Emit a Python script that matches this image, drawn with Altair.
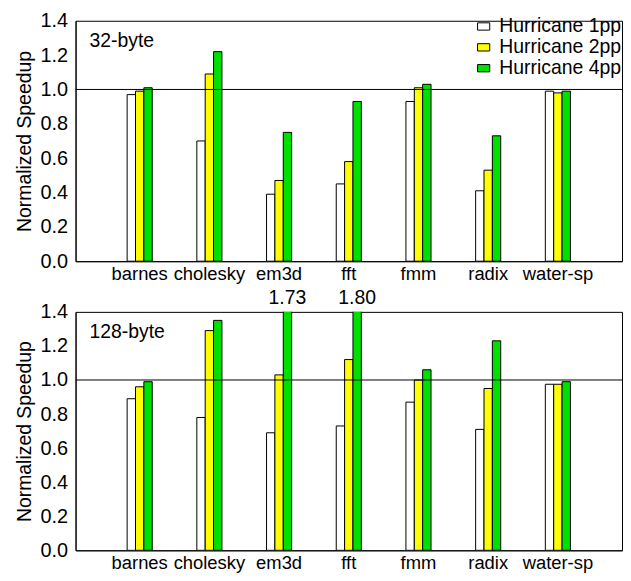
import altair as alt
import pandas as pd

BENCH = ["barnes", "cholesky", "em3d", "fft", "fmm", "radix", "water-sp"]
SERIES = ["Hurricane 1pp", "Hurricane 2pp", "Hurricane 4pp"]
COLORS = ["#ffffff", "#ffff00", "#00e000"]

# 32-byte line size
TOP_1PP = [0.97, 0.70, 0.39, 0.45, 0.93, 0.41, 0.99]
TOP_2PP = [0.99, 1.09, 0.47, 0.58, 1.01, 0.53, 0.98]
TOP_4PP = [1.01, 1.22, 0.75, 0.93, 1.03, 0.73, 0.99]

# 128-byte line size
BOT_1PP = [0.89, 0.78, 0.69, 0.73, 0.87, 0.71, 0.975]
BOT_2PP = [0.96, 1.29, 1.03, 1.12, 1.00, 0.95, 0.975]
BOT_4PP = [0.99, 1.35, 1.73, 1.80, 1.06, 1.23, 0.99]

# off-scale annotations (bottom panel)
ANNOT_BENCH = ["em3d", "fft"]
ANNOT_TEXT = ["1.73", "1.80"]
Y_MAX = 1.4
Y_TICKS = [0.0, 0.2, 0.4, 0.6, 0.8, 1.0, 1.2, 1.4]
REF_LINE = [1.0]
PANEL_LABELS = ["32-byte", "128-byte"]

FONT = "Liberation Sans"
FS = 19.5
W = 550


def frame(v1, v2, v4):
    rows = []
    for i, b in enumerate(BENCH):
        for s, vals in zip(SERIES, (v1, v2, v4)):
            rows.append({"bench": b, "series": s, "value": vals[i]})
    return pd.DataFrame(rows)


xscale = alt.Scale(paddingInner=0.64, paddingOuter=0.74)
xoscale = alt.Scale(paddingInner=0, paddingOuter=0)
yscale = alt.Scale(domain=[0, Y_MAX], nice=False)

X_AXIS = alt.Axis(title=None, labelAngle=0, ticks=False, labelFontSize=18.5,
                  labelFont=FONT, labelColor="black", domainColor="black",
                  labelPadding=3)
Y_AXIS = alt.Axis(title="Normalized Speedup", values=Y_TICKS, format=".1f",
                  grid=False, ticks=False, labelFontSize=20, labelFont=FONT,
                  labelColor="black", titleFontSize=FS, titleFont=FONT,
                  titleFontWeight="normal", titleColor="black",
                  domainColor="black", labelPadding=8, titlePadding=6,
                  labelOverlap=False)


def panel(df, label, h, annot=None):
    bars = alt.Chart(df).mark_bar(stroke="black", strokeWidth=1, clip=True).encode(
        x=alt.X("bench:N", sort=BENCH, scale=xscale, axis=X_AXIS),
        xOffset=alt.XOffset("series:N", sort=SERIES, scale=xoscale),
        y=alt.Y("value:Q", scale=yscale, axis=Y_AXIS),
        color=alt.Color("series:N", sort=SERIES,
                        scale=alt.Scale(domain=SERIES, range=COLORS),
                        legend=alt.Legend(title=None, orient="none", legendX=401, legendY=-4,
                                          labelFontSize=FS, labelFont=FONT, labelColor="black",
                                          symbolType="M-1,-0.6L1,-0.6L1,0.6L-1,0.6Z",
                                          symbolSize=150, symbolStrokeColor="black",
                                          symbolStrokeWidth=1, rowPadding=0,
                                          labelOffset=6, symbolOpacity=1)),
    )
    rule = alt.Chart(pd.DataFrame({"y": REF_LINE})).mark_rule(
        color="black", strokeWidth=1).encode(y=alt.Y("y:Q", scale=yscale, axis=Y_AXIS))
    txt = alt.Chart(pd.DataFrame({"t": [label]})).mark_text(
        align="left", baseline="alphabetic", fontSize=FS, font=FONT, color="black"
    ).encode(text="t:N", x=alt.value(14), y=alt.value(26))
    layers = [bars, rule, txt]
    if annot is not None:
        a = alt.Chart(annot).mark_text(
            align="center", baseline="alphabetic", fontSize=FS, font=FONT, color="black",
            dy=-8).encode(
            x=alt.X("bench:N", sort=BENCH, scale=xscale, axis=X_AXIS),
            xOffset=alt.XOffset("series:N", sort=SERIES, scale=xoscale),
            y=alt.Y("y:Q", scale=yscale, axis=Y_AXIS),
            text="t:N")
        layers.append(a)
    return alt.layer(*layers).properties(width=W, height=h)


annot_df = pd.DataFrame({"bench": ANNOT_BENCH, "series": [SERIES[2]] * 2,
                         "y": [Y_MAX] * 2, "t": ANNOT_TEXT})

top = panel(frame(TOP_1PP, TOP_2PP, TOP_4PP), PANEL_LABELS[0], 242)
bot = panel(frame(BOT_1PP, BOT_2PP, BOT_4PP), PANEL_LABELS[1], 240, annot_df)

chart = alt.vconcat(top, bot, spacing=4).properties(
    padding={"left": 5, "top": 0, "right": 0, "bottom": 0}
).configure_view(stroke="black", strokeWidth=1).configure_axis(
    labelFlush=False, labelOverlap=False)

chart.save("out.html", embed_options={"renderer": "svg", "actions": False})
